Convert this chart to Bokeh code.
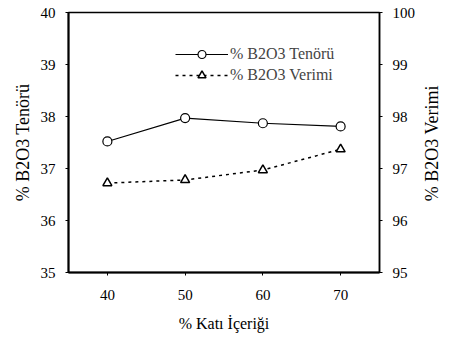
import math
from bokeh.plotting import figure
from bokeh.models import Range1d, LinearAxis, FixedTicker, Legend, LegendItem
from bokeh.embed import file_html
from bokeh.resources import INLINE

kati = [40, 50, 60, 70]
tenor = [37.52, 37.97, 37.87, 37.81]
verim = [96.72, 96.78, 96.97, 97.37]
left_ticks = [35, 36, 37, 38, 39, 40]
right_ticks = [95, 96, 97, 98, 99, 100]
x_ticks = [40, 50, 60, 70]
right_title = "% B2O3 Verimi"
RIGHT_TITLE_START = 96.37  # where the bottom-to-top right title begins (right-axis units)

FONT = "Liberation Serif"

p = figure(frame_width=311, frame_height=260, output_backend="svg", toolbar_location=None,
           x_range=Range1d(35, 75), y_range=Range1d(35, 40),
           min_border_left=68, min_border_right=74, min_border_top=12, min_border_bottom=72,
           x_axis_label="% Katı İçeriği", y_axis_label="% B2O3 Tenörü")
p.extra_y_ranges = {"right": Range1d(95, 100)}
p.xgrid.visible = False
p.ygrid.visible = False
p.outline_line_color = "black"
p.outline_line_width = 1.5
p.background_fill_color = "white"
p.border_fill_color = "white"

ra = LinearAxis(y_range_name="right")
p.add_layout(ra, "right")

for ax in [p.xaxis[0], p.yaxis[0], ra]:
    ax.major_label_text_font = FONT
    ax.major_label_text_font_size = "15px"
    ax.major_label_text_color = "black"
    ax.axis_label_text_font = FONT
    ax.axis_label_text_font_style = "normal"
    ax.axis_label_text_color = "black"
    ax.axis_line_color = "black"
    ax.axis_line_width = 2
    ax.major_tick_line_color = "black"
    ax.major_tick_in = 0
    ax.major_tick_out = 3
    ax.minor_tick_line_color = None

p.xaxis[0].ticker = FixedTicker(ticks=x_ticks)
p.yaxis[0].ticker = FixedTicker(ticks=left_ticks)
ra.ticker = FixedTicker(ticks=right_ticks)
ra.axis_line_width = 1.5
p.xaxis[0].axis_label_text_font_size = "16px"
p.yaxis[0].axis_label_text_font_size = "18px"
p.xaxis[0].major_label_standoff = 14
p.xaxis[0].axis_label_standoff = 12
p.yaxis[0].major_label_standoff = 10
p.yaxis[0].axis_label_standoff = 5
ra.major_label_standoff = 10

# right-hand title, reading bottom-to-top like the reference
rt = LinearAxis(y_range_name="right", ticker=FixedTicker(ticks=[RIGHT_TITLE_START]),
                major_label_overrides={RIGHT_TITLE_START: right_title},
                major_label_orientation=math.pi / 2,
                axis_line_color=None, major_tick_line_color=None, minor_tick_line_color=None,
                major_label_text_font=FONT, major_label_text_font_size="18px",
                major_label_text_color="black", major_label_standoff=8)
p.add_layout(rt, "right")

l1 = p.line(kati, tenor, line_color="black", line_width=1.2)
m1 = p.scatter(kati, tenor, marker="circle", size=9, fill_color="white", line_color="black", line_width=1.2)
l2 = p.line(kati, verim, y_range_name="right", line_color="black", line_width=1.5, line_dash="3 4")
m2 = p.scatter(kati, verim, y_range_name="right", marker="triangle", size=9, fill_color="white",
               line_color="black", line_width=1.5)

legend = Legend(items=[LegendItem(label="% B2O3 Tenörü", renderers=[l1, m1]),
                       LegendItem(label="% B2O3 Verimi", renderers=[l2, m2])],
                location=(107, 187), padding=0, margin=0, spacing=1,
                glyph_width=53, glyph_height=20, label_height=20, label_standoff=2,
                label_text_font=FONT, label_text_font_size="16px",
                border_line_color=None, background_fill_alpha=0)
p.add_layout(legend, "center")

open("out.html", "w").write(file_html(p, INLINE))
